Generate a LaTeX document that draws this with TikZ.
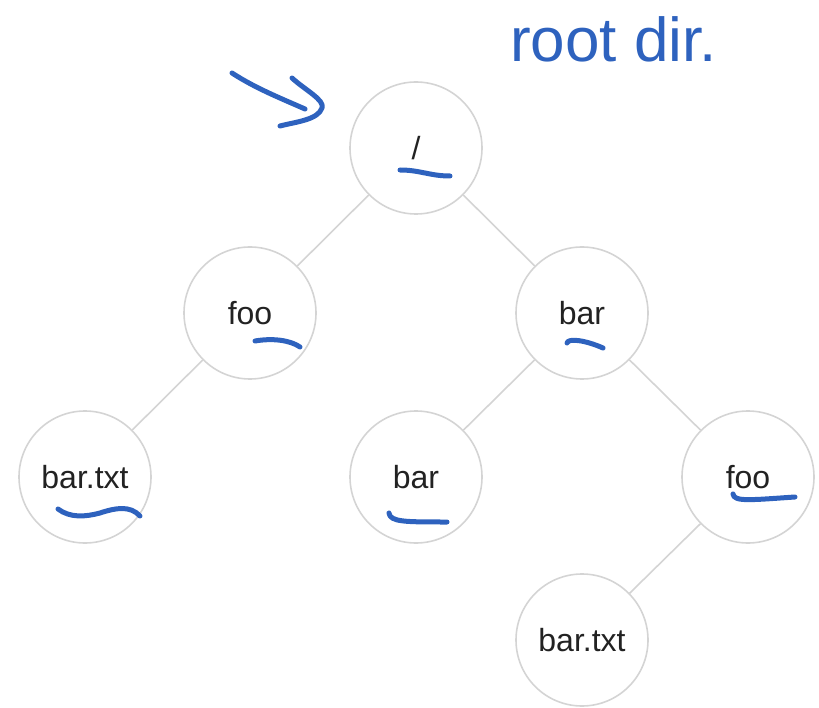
\documentclass[tikz,border=0pt]{standalone}
\usepackage{fontspec}
\setmainfont{Liberation Sans}
\definecolor{ink}{HTML}{2E62BE}
\definecolor{ring}{HTML}{D4D4D4}
\definecolor{txt}{HTML}{222222}
\tikzset{
  dirnode/.style={circle, draw=ring, line width=1.6pt, minimum size=132pt, inner sep=0pt,
    text=txt, font=\fontsize{32}{36}\selectfont},
  treeedge/.style={draw=ring, line width=1.6pt},
  pen/.style={draw=ink, line width=5pt, line cap=round, line join=round},
  notetext/.style={text=ink, font=\fontsize{62}{70}\selectfont, inner sep=0pt}
}
\begin{document}
\begin{tikzpicture}[x=1pt, y=-1pt]
\useasboundingbox (0,0) rectangle (819,708);
% nodes
\node[dirnode] (root) at (416,148) {/};
\node[dirnode] (foo1) at (250,313) {foo};
\node[dirnode] (bar1) at (582,313) {bar};
\node[dirnode] (bartxt1) at (85,477) {bar.txt};
\node[dirnode] (bar2) at (416,477) {bar};
\node[dirnode] (foo2) at (748,477) {foo};
\node[dirnode] (bartxt2) at (582,640) {bar.txt};
% edges
\draw[treeedge] (root) -- (foo1);
\draw[treeedge] (root) -- (bar1);
\draw[treeedge] (foo1) -- (bartxt1);
\draw[treeedge] (bar1) -- (bar2);
\draw[treeedge] (bar1) -- (foo2);
\draw[treeedge] (foo2) -- (bartxt2);
% annotation text
\node[notetext, anchor=base west] (note) at (510,62) {root dir.};
% arrow
\coordinate (arrS) at (232,73);
\coordinate (arrE) at (305,109);
\coordinate (headA) at (292,78);
\coordinate (headB) at (322,108);
\coordinate (headC) at (280,126);
\draw[pen] (arrS) .. controls (255,88) and (280,98) .. (arrE);
\draw[pen] (headA) .. controls (305,90) and (325,100) .. (headB) .. controls (318,120) and (295,122) .. (headC);
% underlines
\coordinate (u1a) at (400,170); \coordinate (u1b) at (450,176);
\draw[pen] (u1a) .. controls (420,170) and (430,176) .. (u1b);
\coordinate (u2a) at (255,341); \coordinate (u2b) at (300,347);
\draw[pen] (u2a) .. controls (272,338) and (290,340) .. (u2b);
\coordinate (u3a) at (567,343); \coordinate (u3b) at (603,348);
\draw[pen] (u3a) .. controls (568,338) and (585,340) .. (u3b);
\coordinate (u4a) at (58,509); \coordinate (u4b) at (140,516);
\draw[pen] (u4a) .. controls (70,518) and (85,517) .. (100,513) .. controls (115,508) and (130,505) .. (u4b);
\coordinate (u5a) at (389,513); \coordinate (u5b) at (447,522);
\draw[pen] (u5a) .. controls (390,522) and (405,522) .. (u5b);
\coordinate (u6a) at (733,494); \coordinate (u6b) at (795,497);
\draw[pen] (u6a) .. controls (734,502) and (750,500) .. (u6b);
\end{tikzpicture}
\end{document}
